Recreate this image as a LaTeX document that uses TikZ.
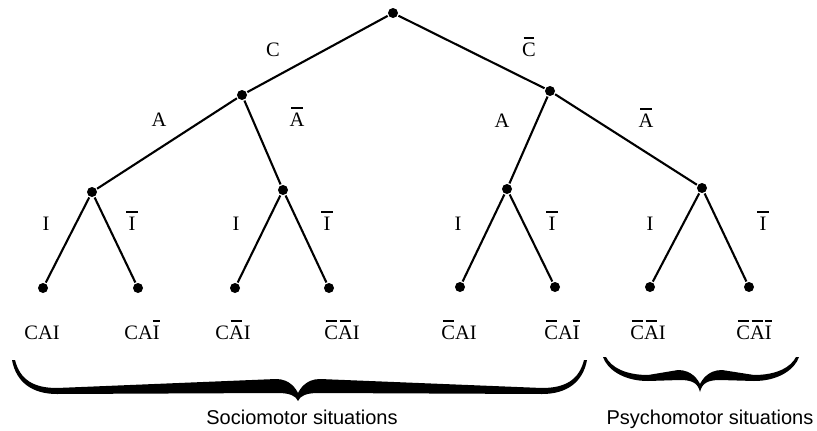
\documentclass[tikz,border=0pt]{standalone}
\usepackage{fontspec}
\setmainfont{Liberation Serif}
\newfontfamily\capfont{Liberation Sans}
\newcommand\nb[2][3pt]{\setbox0\hbox{#2}\rlap{\kern\dimexpr#1/2\relax\rule[17.5pt]{\dimexpr\wd0-#1\relax}{1.7pt}}\box0}
\begin{document}
\begin{tikzpicture}[x=1pt, y=-1pt, line width=2.1pt,
    dot/.style={circle, fill, inner sep=0pt, minimum size=10pt},
    lbl/.style={font=\fontsize{20.5}{24}\selectfont, inner sep=0pt, anchor=base},
    capt/.style={font=\capfont\fontsize{20}{24}\selectfont, inner sep=0pt, anchor=base}]
  \useasboundingbox (0,0) rectangle (817,431);
  \node[dot] (r)  at (393,13) {};
  \node[dot] (c)  at (242,95) {};
  \node[dot] (nc) at (550,91) {};
  \foreach \n/\x/\y in {ca/92/192, cna/283/190, nca/507/189, ncna/702/188}
    \node[dot] (\n) at (\x,\y) {};
  \foreach \n/\x/\y in {cai/43/288, cani/138/288, cnai/235/288, cnani/329/288,
                        ncai/460/287, ncani/555/287, ncnai/650/287, ncnani/749/287}
    \node[dot] (\n) at (\x,\y) {};
  \foreach \a/\b in {r/c, r/nc, c/ca, c/cna, nc/nca, nc/ncna,
                     ca/cai, ca/cani, cna/cnai, cna/cnani,
                     nca/ncai, nca/ncani, ncna/ncnai, ncna/ncnani}
    \draw (\a) -- (\b);
  \foreach \t/\x/\y [count=\i] in {C/273/56, {\nb{C}}/529/56,
      A/159/126, {\nb{A}}/297/126, A/502/127, {\nb{A}}/646/127,
      I/46/230, {\nb[-5pt]{I}}/132/230, I/236/230, {\nb[-5pt]{I}}/327/230,
      I/458/230, {\nb[-5pt]{I}}/552/230, I/650/230, {\nb[-5pt]{I}}/763/230}
    \node[lbl] (e\i) at (\x,\y) {\t};
  \foreach \t/\x [count=\i] in {CAI/42, {CA\nb[0pt]{I}}/142, {C\nb{A}I}/233,
      {\nb{C}\nb{A}I}/342, {\nb{C}AI}/459, {\nb{C}A\nb[0pt]{I}}/562,
      {\nb{C}\nb{A}I}/648, {\nb{C}\nb{A}\nb[0pt]{I}}/754}
    \node[lbl] (leaf\i) at (\x,339) {\t};
  \foreach \xa/\xm/\xb/\ye/\yb/\yt/\d in {12/298/587/360/394/401/15, 603/700/799/357/381/392/11}
    \fill (\xa,\ye) .. controls (\xa+4,\yb-12) and (\xa+20,\yb) .. (\xa+45,\yb)
      -- (\xm-20,\yb-1) .. controls (\xm-8,\yb-1) and (\xm-2,\yb+2) .. (\xm,\yt)
      .. controls (\xm+2,\yb+2) and (\xm+8,\yb-1) .. (\xm+20,\yb-1)
      -- (\xb-45,\yb) .. controls (\xb-20,\yb) and (\xb-4,\yb-12) .. (\xb,\ye)
      -- (\xb-3,\ye) .. controls (\xb-8,\yb-14) and (\xb-22,\yb-6) .. (\xb-45,\yb-6)
      -- (\xm+22,\yb-\d) .. controls (\xm+8,\yb-\d) and (\xm+2,\yt-12) .. (\xm,\yt-8)
      .. controls (\xm-2,\yt-12) and (\xm-8,\yb-\d) .. (\xm-22,\yb-\d)
      -- (\xa+45,\yb-6) .. controls (\xa+22,\yb-6) and (\xa+8,\yb-14) .. (\xa+3,\ye) -- cycle;
  \node[capt] (socio)  at (302,424) {Sociomotor situations};
  \node[capt] (psycho) at (710,424) {Psychomotor situations};
\end{tikzpicture}
\end{document}
